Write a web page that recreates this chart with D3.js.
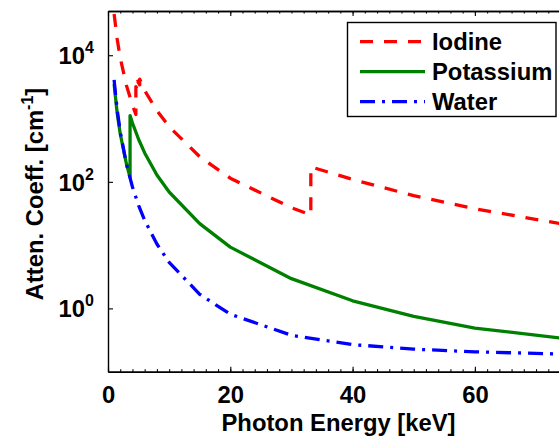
<!DOCTYPE html>
<html>
<head>
<meta charset="utf-8">
<script src="https://cdn.jsdelivr.net/npm/d3@7"></script>
<style>
  html, body { margin: 0; padding: 0; background: #fff; }
  svg text { font-family: "Liberation Sans", Arial, Helvetica, sans-serif; font-weight: bold; fill: #000; }
</style>
</head>
<body>
<svg id="chart" width="559" height="437"></svg>
<script>
// Linear attenuation coefficients [cm^-1] vs photon energy [keV]
const energyIodine = [1, 1.5, 2, 3, 4, 4.557, 4.557, 4.852, 4.852, 5.188, 5.188, 6, 8, 10, 15, 20, 30, 33.17, 33.17, 40, 50, 60, 80];
const iodine       = [44800, 18100, 9130, 3370, 1630, 1160, 3200, 2800, 3900, 3400, 4200, 2770, 1330, 744, 249, 114, 39, 30, 172, 109, 60.6, 37.5, 17.3];

const energyPotassium = [1, 1.5, 2, 3, 3.607, 3.607, 4, 5, 6, 8, 10, 15, 20, 30, 40, 50, 60, 80];
const potassium       = [3498, 1222, 575, 195, 119, 1115, 849, 470, 286, 128, 69, 21.9, 9.3, 2.95, 1.32, 0.75, 0.49, 0.29];

const energyWater = [1, 1.5, 2, 3, 4, 5, 6, 8, 10, 15, 20, 30, 40, 50, 60, 80];
const water       = [4078, 1376, 617, 193, 82.8, 42.6, 24.6, 10.4, 5.33, 1.67, 0.81, 0.376, 0.268, 0.227, 0.206, 0.184];

const seriesNames = ["Iodine", "Potassium", "Water"];
const xMajorTicks = [0, 20, 40, 60];
const yMajorTicks = [1, 100, 10000];
const yTickExponents = ["0", "2", "4"];

const svg = d3.select("#chart");
const plotLeft = 108, plotRight = 566.6, plotTop = 11, plotBottom = 371.7;

const x = d3.scaleLinear().domain([0, 75]).range([plotLeft, plotRight]);
const y = d3.scaleLog().domain([0.1, 5e4]).range([plotBottom, plotTop]);

const series = [
  { name: seriesNames[0], e: energyIodine, v: iodine, color: "#ff0000", dash: "13,11" },
  { name: seriesNames[1], e: energyPotassium, v: potassium, color: "#008000", dash: null },
  { name: seriesNames[2], e: energyWater, v: water, color: "#0000ff", dash: "15,7,3,7" }
];

svg.append("defs").append("clipPath").attr("id", "plotClip")
  .append("rect").attr("x", plotLeft).attr("y", plotTop)
  .attr("width", plotRight - plotLeft).attr("height", plotBottom - plotTop);

const line = d3.line().x(d => x(d[0])).y(d => y(d[1]));

const plot = svg.append("g").attr("clip-path", "url(#plotClip)");
series.forEach(s => {
  plot.append("path")
    .datum(s.e.map((e, i) => [e, s.v[i]]))
    .attr("d", line)
    .attr("fill", "none")
    .attr("stroke", s.color)
    .attr("stroke-width", 3.3)
    .attr("stroke-linejoin", "round")
    .attr("stroke-dasharray", s.dash);
});

// Axes: ticks point inward
const fontSize = 23.8;
const styleAxis = g => {
  g.selectAll(".domain").attr("stroke", "#000").attr("stroke-width", 1.4);
  g.selectAll(".tick line").attr("stroke", "#000").attr("stroke-width", 1.1);
};

const xMinorTicks = d3.range(0, 76, 2);
svg.append("g").attr("transform", `translate(0,${plotBottom})`)
  .call(d3.axisBottom(x).tickValues(xMinorTicks).tickSize(-2.5).tickSizeOuter(0).tickFormat(""))
  .call(styleAxis);
svg.append("g").attr("transform", `translate(0,${plotBottom})`)
  .call(d3.axisBottom(x).tickValues(xMajorTicks).tickSize(-5).tickSizeOuter(0).tickPadding(14.5))
  .call(styleAxis)
  .call(g => g.selectAll(".tick text").attr("font-size", fontSize))
  .call(g => g.attr("font-family", null).attr("font-size", null));

svg.append("g").attr("transform", `translate(0,${plotTop})`)
  .call(d3.axisTop(x).tickValues(xMinorTicks).tickSize(-2.5).tickSizeOuter(0).tickFormat(""))
  .call(styleAxis);
svg.append("g").attr("transform", `translate(0,${plotTop})`)
  .call(d3.axisTop(x).tickValues(xMajorTicks).tickSize(-5).tickSizeOuter(0).tickFormat(""))
  .call(styleAxis);

const yAxis = svg.append("g").attr("transform", `translate(${plotLeft},0)`)
  .call(d3.axisLeft(y).tickValues(yMajorTicks).tickSize(-5).tickSizeOuter(0).tickFormat(""))
  .call(styleAxis);
yAxis.attr("font-family", null).attr("font-size", null);
yAxis.selectAll(".tick").each(function(d, i) {
  const t = d3.select(this).append("text")
    .attr("x", -14).attr("y", 8.5)
    .attr("text-anchor", "end")
    .attr("font-size", fontSize);
  t.append("tspan").text("10");
  t.append("tspan").attr("font-size", 16).attr("dy", -11).text(yTickExponents[i]);
});

// Axis titles
svg.append("text")
  .attr("x", 338.5).attr("y", 430.5)
  .attr("text-anchor", "middle")
  .attr("font-size", fontSize)
  .text("Photon Energy [keV]");

const yTitle = svg.append("text")
  .attr("transform", "translate(43,194) rotate(-90)")
  .attr("text-anchor", "middle")
  .attr("font-size", fontSize);
yTitle.append("tspan").text("Atten. Coeff. [cm");
yTitle.append("tspan").attr("font-size", 16).attr("dy", -10).text("-1");
yTitle.append("tspan").attr("dy", 10).text("]");

// Legend
const legend = svg.append("g");
legend.append("rect")
  .attr("x", 347.5).attr("y", 22.5).attr("width", 208.5).attr("height", 94)
  .attr("fill", "#fff").attr("stroke", "#000").attr("stroke-width", 1.4);
series.forEach((s, i) => {
  const ly = 41.7 + i * 30;
  legend.append("line")
    .attr("x1", 360).attr("x2", 425).attr("y1", ly).attr("y2", ly)
    .attr("stroke", s.color).attr("stroke-width", 3.3)
    .attr("stroke-dasharray", s.dash);
  legend.append("text")
    .attr("x", 432).attr("y", ly + 8.5)
    .attr("font-size", fontSize)
    .text(s.name);
});
</script>
</body>
</html>
